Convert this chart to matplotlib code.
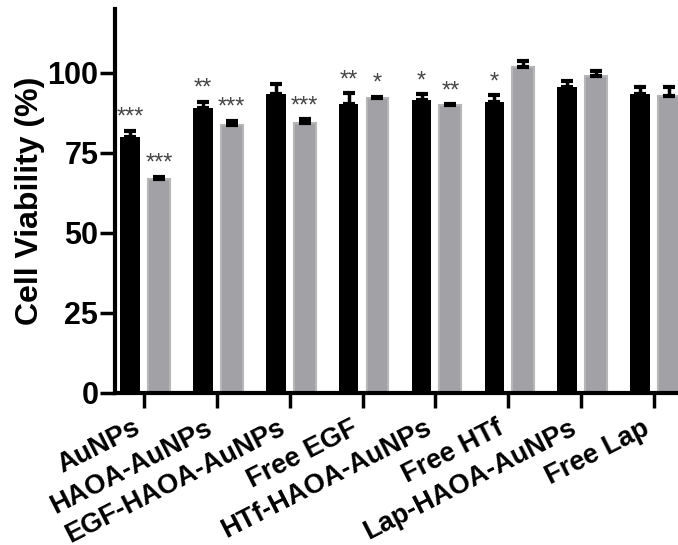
import matplotlib
matplotlib.use("Agg")
import matplotlib.pyplot as plt
import numpy as np

plt.rcParams['font.family'] = ['Liberation Sans', 'DejaVu Sans']
plt.rcParams['font.weight'] = 'bold'

groups = ["AuNPs", "HAOA-AuNPs", "EGF-HAOA-AuNPs", "Free EGF",
          "HTf-HAOA-AuNPs", "Free HTf", "Lap-HAOA-AuNPs", "Free Lap"]
black_vals = [80.0, 89.0, 93.4, 90.3, 91.6, 91.0, 95.5, 93.4]
black_err = [2.0, 2.0, 3.0, 3.3, 1.7, 2.0, 2.1, 2.3]
gray_vals = [66.9, 83.8, 84.3, 92.1, 90.0, 101.7, 99.1, 92.8]
gray_err = [0.6, 1.2, 1.2, 0.5, 0.3, 1.9, 1.6, 2.9]
black_sig = ["***", "**", "", "**", "*", "*", "", ""]
gray_sig = ["***", "***", "***", "*", "**", "", "", ""]
yticks = [0, 25, 50, 75, 100]

fig = plt.figure(figsize=(6.78, 5.45), dpi=100)
ax = fig.add_axes([0.1696, 0.279, 0.8304, 0.7046])

x = np.arange(len(groups))
off_b, off_g = -0.19, 0.205
ax.bar(x + off_b, black_vals, width=0.27, color='black', zorder=2)
ax.bar(x + off_g, gray_vals, width=0.30, color='#a2a2a6',
       edgecolor='#b6b6b6', linewidth=1.5, zorder=2)

zeros = [0] * len(groups)
ax.errorbar(x + off_b, black_vals, yerr=[zeros, black_err], fmt='none',
            ecolor='black', elinewidth=2.5, capsize=4.3, capthick=3, zorder=3)
ax.errorbar(x + off_g, gray_vals, yerr=[zeros, gray_err], fmt='none',
            ecolor='black', elinewidth=2.5, capsize=4.3, capthick=3, zorder=3)

for xs, vals, errs, sigs in [(x + off_b, black_vals, black_err, black_sig),
                             (x + off_g, gray_vals, gray_err, gray_sig)]:
    for xi, v, e, s in zip(xs, vals, errs, sigs):
        if s:
            ax.text(xi, v + e + 0.6, s, ha='center', va='bottom', fontsize=17,
                    fontweight='normal', color='#444444')

ax.set_xlim(-0.397, 7.33)
ax.set_ylim(0, 120)
ax.set_yticks(yticks)
ax.set_yticklabels([str(t) for t in yticks], fontsize=22, fontweight='bold')
ax.set_xticks(x)
ax.set_xticklabels(groups, rotation=27, ha='right', va='top',
                   rotation_mode='default', fontsize=19.5, fontweight='bold')
ax.set_ylabel("Cell Viability (%)", fontsize=23, fontweight='bold', labelpad=2)

for side in ['top', 'right']:
    ax.spines[side].set_visible(False)
for side in ['left', 'bottom']:
    ax.spines[side].set_linewidth(3)
ax.tick_params(axis='both', direction='out', length=11, width=2.5, pad=1)
ax.tick_params(axis='x', pad=5)

fig.savefig("out.png", dpi=100)
